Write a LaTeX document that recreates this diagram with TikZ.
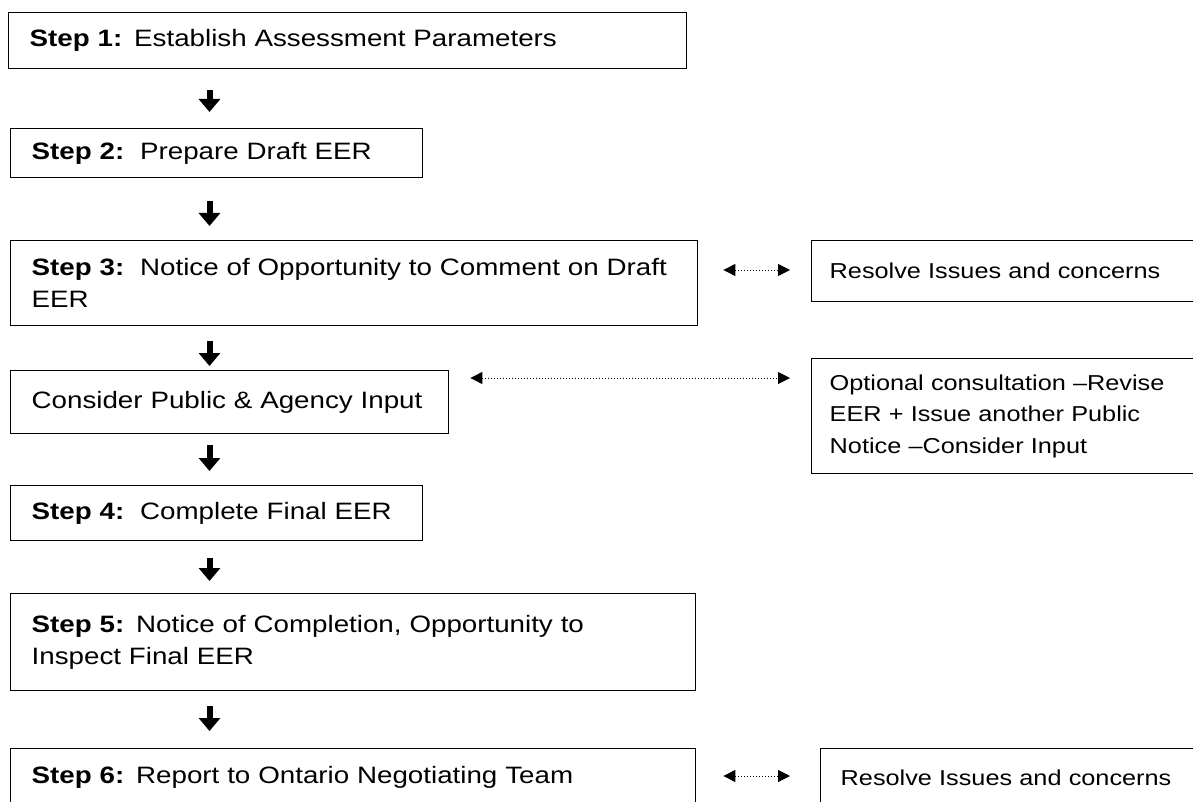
\documentclass[tikz,border=0pt]{standalone}
\usepackage{fontspec}
\setmainfont{Liberation Sans}[FakeStretch=1.17]
\usetikzlibrary{arrows.meta,calc}
\tikzset{
  box/.style={draw=black, line width=1.4pt, anchor=north west, align=left,
    inner xsep=21pt, inner ysep=0pt, font=\fontsize{23.7}{32}\selectfont},
  sidebox/.style={box, inner xsep=18pt, font=\fontsize{21.6}{31.5}\selectfont},
  downarrow/.style={line width=6pt, -{Triangle[length=13pt,width=21pt]}},
  dblarrow/.style={line width=1pt, dotted, {Triangle[length=12pt,width=12pt]}-{Triangle[length=12pt,width=12pt]}}
}
\begin{document}
\begin{tikzpicture}[x=1pt,y=-1pt]
\clip (0,0) rectangle (1193,802);
\fill[white] (0,0) rectangle (1193,802);

\node[box, text width=636pt, minimum height=56pt] (b1) at (8,12) {\textbf{Step 1:} Establish Assessment Parameters};
\node[box, text width=370pt, minimum height=49pt] (b2) at (10,128) {\textbf{Step 2:}\ \ Prepare Draft EER};
\node[box, text width=645pt, minimum height=85pt] (b3) at (10,240) {\textbf{Step 3:}\ \ Notice of Opportunity to Comment on Draft\\EER};
\node[box, text width=396pt, minimum height=63pt] (cons) at (10,370) {Consider Public \& Agency Input};
\node[box, text width=370pt, minimum height=55pt] (b4) at (10,485) {\textbf{Step 4:}\ \ Complete Final EER};
\node[box, text width=643pt, minimum height=97pt] (b5) at (10,593) {\textbf{Step 5:} Notice of Completion, Opportunity to\\Inspect Final EER};
\node[box, text width=643pt, minimum height=58pt] (b6) at (10,748) {\textbf{Step 6:} Report to Ontario Negotiating Team};

\node[sidebox, text width=364pt, minimum height=61pt] (r1) at (811,240) {Resolve Issues and concerns};
\node[sidebox, text width=364pt, minimum height=115pt] (r2) at (811,358) {Optional consultation --Revise\\EER + Issue another Public\\Notice --Consider Input};
\node[sidebox, inner xsep=20pt, text width=360pt, minimum height=58pt] (r3) at (820,748) {Resolve Issues and concerns};

\coordinate (ax) at (209.5,0);
\draw[downarrow, shorten <=21pt, shorten >=16pt] (b1.south -| ax) -- (b2.north -| ax);
\draw[downarrow, shorten <=23pt, shorten >=14pt] (b2.south -| ax) -- (b3.north -| ax);
\draw[downarrow, shorten <=15pt, shorten >=4pt] (b3.south -| ax) -- (cons.north -| ax);
\draw[downarrow, shorten <=11pt, shorten >=14pt] (cons.south -| ax) -- (b4.north -| ax);
\draw[downarrow, shorten <=17pt, shorten >=12pt] (b4.south -| ax) -- (b5.north -| ax);
\draw[downarrow, shorten <=15pt, shorten >=17pt] (b5.south -| ax) -- (b6.north -| ax);

\coordinate (c1) at ([yshift=-30pt]b3.north east);
\draw[dblarrow, shorten <=25pt, shorten >=21pt] (c1) -- (c1 -| r1.west);
\coordinate (c2) at ([yshift=-8pt]cons.north east);
\draw[dblarrow, shorten <=21pt, shorten >=21pt] (c2) -- (c2 -| r2.west);
\coordinate (c3) at ([yshift=-28pt]b6.north east);
\draw[dblarrow, shorten <=27pt, shorten >=30pt] (c3) -- (c3 -| r3.west);
\end{tikzpicture}
\end{document}
